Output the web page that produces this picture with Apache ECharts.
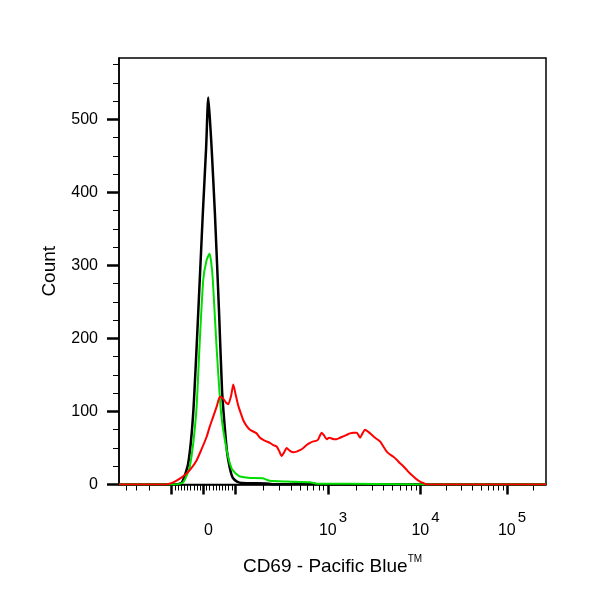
<!DOCTYPE html>
<html>
<head>
<meta charset="utf-8">
<script src="https://cdn.jsdelivr.net/npm/echarts@6/dist/echarts.min.js"></script>
<style>
html,body{margin:0;padding:0;background:#fff;}
#chart{width:600px;height:600px;}
</style>
</head>
<body>
<div id="chart"></div>
<script>
// ---- Data (x in display channels 0..1024, y = event count) ----
const blackCh    = [0, 134, 151, 166, 178, 190, 201, 209, 214, 218, 222, 230, 240, 247, 252, 259, 266, 273, 283, 295, 353, 367, 410, 434, 463, 477, 554, 1024];
const blackCount = [0, 0, 3, 29, 98, 235, 371, 462, 530, 500, 462, 371, 235, 130, 90, 45, 22, 9, 4, 2, 1.5, 0.5, 0.5, 1.5, 1.5, 0.3, 0, 0];

const greenCh    = [0, 134, 154, 170, 185, 193, 202, 210, 217, 221, 225, 234, 245, 258, 270, 282, 290, 314, 345, 362, 403, 458, 475, 554, 674, 722, 1024];
const greenCount = [0, 0, 3, 25, 97, 188, 280, 307, 316, 305, 280, 188, 97, 48, 22, 14, 11, 9, 8.5, 5, 4, 3, 1, 1, 0.5, 0, 0];

const redCh    = [0, 110, 130, 146, 162, 173, 186, 197, 210, 218, 226, 235, 242, 249, 257, 262, 269, 274, 279, 286, 293, 298, 305, 314, 330, 338, 346, 354, 362, 370, 378, 384, 390, 396, 402, 410, 418, 426, 434, 442, 450, 458, 466, 474, 478, 486, 492, 498, 504, 510, 516, 522, 530, 538, 546, 554, 562, 570, 574, 578, 584, 590, 598, 606, 614, 626, 634, 642, 650, 658, 666, 674, 682, 690, 698, 706, 714, 722, 730, 738, 1024];
const redCount = [0, 0, 3, 8, 15, 22, 33, 47, 65, 80, 93, 108, 120, 118, 112, 110, 122, 137, 125, 108, 96, 88, 81, 75, 70, 64, 61, 59, 57, 54, 52, 46, 39, 44, 50, 46, 44, 45, 47, 50, 54, 57, 59, 60, 62, 71, 67, 62, 64, 63, 62, 62, 64, 66, 68, 70, 71, 71, 68, 64, 70, 75, 72, 68, 64, 59, 52, 45, 41, 38, 34, 29, 25, 20, 15, 11, 7, 4, 2, 0, 0];

// ---- Axis definitions ----
const yMajorTicks = [0, 100, 200, 300, 400, 500];
const yMinorTicks = [25, 50, 75, 125, 150, 175, 225, 250, 275, 325, 350, 375, 425, 450, 475, 525, 550, 575];
const xLabelValues = [0, 1000, 10000, 100000];
const xLabelText = ['{b|0}', '{b|10}{s|3}', '{b|10}{s|4}', '{b|10}{s|5}'];
const xMajorValues = [-100, 0, 100, 1000, 10000, 100000];
const xMinorValues = [-400, -300, -200,
  -90, -80, -70, -60, -50, -40, -30, -20, -10, 10, 20, 30, 40, 50, 60, 70, 80, 90,
  200, 300, 400, 500, 600, 700, 800, 900,
  2000, 3000, 4000, 5000, 6000, 7000, 8000, 9000,
  20000, 30000, 40000, 50000, 60000, 70000, 80000, 90000, 200000];

// biexponential display scale: linear between -100 and 100, log per decade above
const linLow = [-100, 126.4], linHigh = [100, 278.2];
const decadeAnchors = [[2, 278.2], [3, 501.2], [4, 723.0], [5, 930.4]];
const negDecade = 180;
function toChannel(v) {
  if (v >= linLow[0] && v <= linHigh[0]) {
    return linLow[1] + (v - linLow[0]) / (linHigh[0] - linLow[0]) * (linHigh[1] - linLow[1]);
  }
  if (v > linHigh[0]) {
    const l = Math.log10(v);
    let i = 0;
    while (i < decadeAnchors.length - 2 && l > decadeAnchors[i + 1][0]) i++;
    const a = decadeAnchors[i], b = decadeAnchors[i + 1];
    return a[1] + (l - a[0]) / (b[0] - a[0]) * (b[1] - a[1]);
  }
  return linLow[1] - negDecade * Math.log10(-v / 100);
}
const labelCh = xLabelValues.map(toChannel);
const majorCh = xMajorValues.map(toChannel);
const minorCh = xMinorValues.map(toChannel);

const zip = (xs, ys) => xs.map((x, i) => [x, ys[i]]);
const FONT = 'Liberation Sans, Arial, sans-serif';
const Y_MAX = 584;

const chart = echarts.init(document.getElementById('chart'));
chart.setOption({
  animation: false,
  backgroundColor: '#fff',
  grid: { left: 119, right: 54, top: 58, bottom: 115.5, show: true, borderColor: '#000', borderWidth: 1.5, backgroundColor: 'transparent' },
  xAxis: [
    {
      type: 'value', min: 0, max: 1024, position: 'bottom',
      name: '{t|CD69 - Pacific Blue}{m|TM}',
      nameLocation: 'middle', nameGap: 70,
      nameTextStyle: { fontFamily: FONT, color: '#000', rich: {
        t: { fontFamily: FONT, fontSize: 19, color: '#000', lineHeight: 22, verticalAlign: 'bottom' },
        m: { fontFamily: FONT, fontSize: 10, color: '#000', verticalAlign: 'top' } } },
      axisLine: { show: true, lineStyle: { color: '#000', width: 1.5 } },
      axisTick: { show: true, inside: false, length: 10, customValues: majorCh, lineStyle: { color: '#000', width: 2.5 } },
      axisLabel: {
        show: true, customValues: labelCh, margin: 26, color: '#000', fontFamily: FONT,
        formatter: function (v) {
          let best = 0;
          labelCh.forEach((c, i) => { if (Math.abs(c - v) < Math.abs(labelCh[best] - v)) best = i; });
          return xLabelText[best];
        },
        rich: {
          b: { fontFamily: FONT, fontSize: 16, color: '#000', lineHeight: 28, verticalAlign: 'bottom', padding: [0, 0, 0, 10] },
          s: { fontFamily: FONT, fontSize: 15, color: '#000', verticalAlign: 'top', padding: [0, 0, 0, 2] }
        }
      },
      splitLine: { show: false }
    },
    {
      type: 'value', min: 0, max: 1024, position: 'bottom',
      axisLine: { show: false },
      axisTick: { show: true, inside: false, length: 6, customValues: minorCh, lineStyle: { color: '#000', width: 1 } },
      axisLabel: { show: false },
      splitLine: { show: false }
    }
  ],
  yAxis: [
    {
      type: 'value', min: 0, max: Y_MAX, position: 'left',
      name: 'Count', nameLocation: 'middle', nameGap: 60,
      nameTextStyle: { fontFamily: FONT, fontSize: 19, color: '#000' },
      axisLine: { show: true, lineStyle: { color: '#000', width: 1.5 } },
      axisTick: { show: true, inside: false, length: 12, customValues: yMajorTicks, lineStyle: { color: '#000', width: 2.5 } },
      axisLabel: { fontFamily: FONT, fontSize: 16, color: '#000', margin: 21, customValues: yMajorTicks },
      splitLine: { show: false }
    },
    {
      type: 'value', min: 0, max: Y_MAX, position: 'left',
      axisLine: { show: false },
      axisTick: { show: true, inside: false, length: 6, customValues: yMinorTicks, lineStyle: { color: '#000', width: 1 } },
      axisLabel: { show: false },
      splitLine: { show: false }
    }
  ],
  series: [
    { name: 'Isotype', type: 'line', data: zip(blackCh, blackCount), showSymbol: false, smooth: 0.2,
      lineStyle: { color: '#000', width: 2.5 }, itemStyle: { color: '#000' }, z: 2 },
    { name: 'Unstimulated', type: 'line', data: zip(greenCh, greenCount), showSymbol: false, smooth: 0.2,
      lineStyle: { color: '#00dd00', width: 2 }, itemStyle: { color: '#00dd00' }, z: 3 },
    { name: 'Stimulated', type: 'line', data: zip(redCh, redCount), showSymbol: false, smooth: 0.2,
      lineStyle: { color: '#ff0000', width: 2 }, itemStyle: { color: '#ff0000' }, z: 4 }
  ]
});
</script>
</body>
</html>
